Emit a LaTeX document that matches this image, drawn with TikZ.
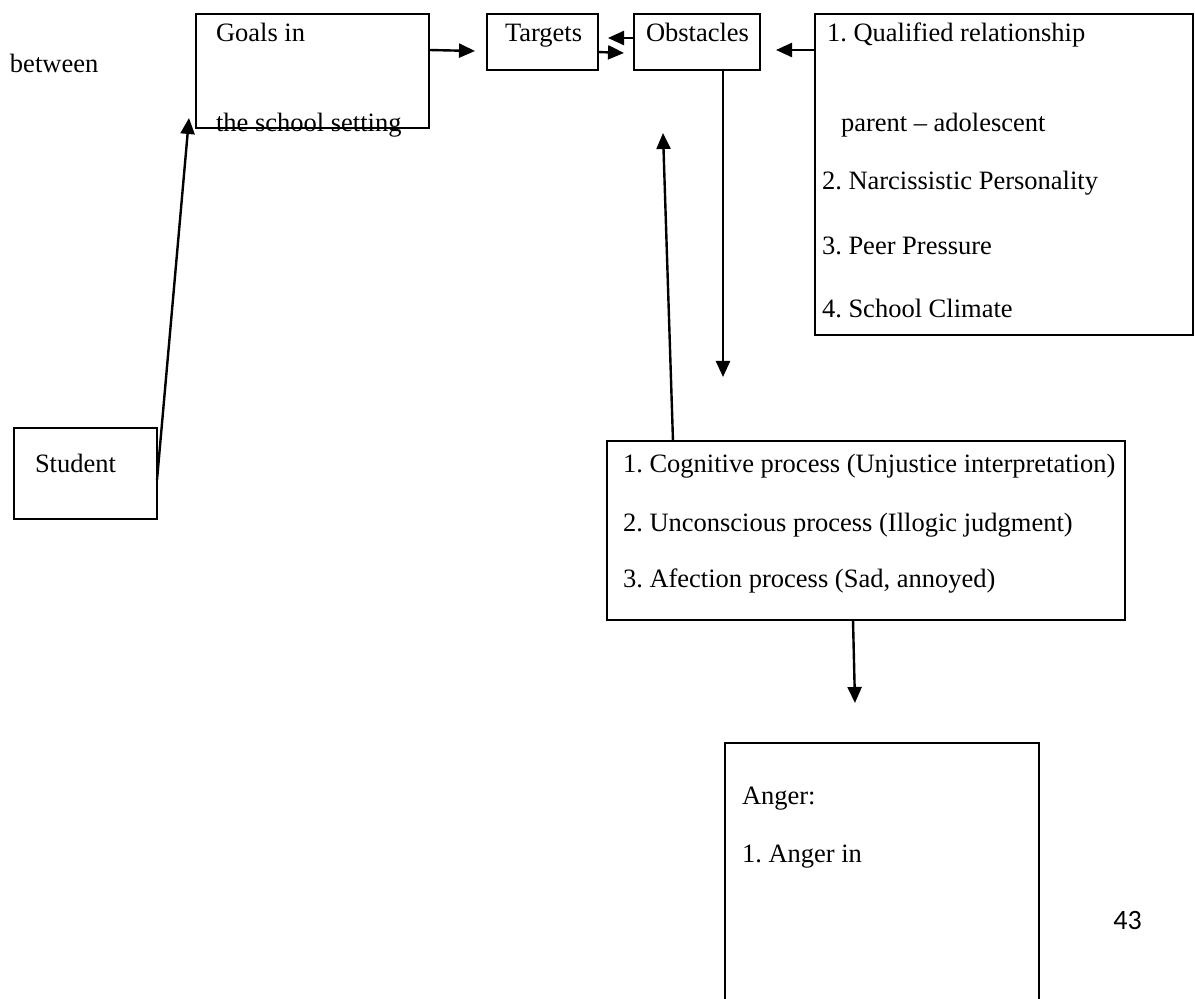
\documentclass[tikz,border=0pt]{standalone}
\usepackage{fontspec}
\setmainfont{Liberation Serif}
\newfontfamily\numfont{Carlito}
\frenchspacing
\usetikzlibrary{arrows.meta,calc,fit}
\tikzset{
  box/.style={draw, line width=0.75pt, inner sep=0pt, outer sep=0pt, rectangle},
  txt/.style={inner sep=0pt, outer sep=0pt, anchor=base west, font=\fontsize{13.25}{15}\selectfont},
  arr/.style={line width=1.2pt, -{Triangle[length=8pt,width=7pt]}}
}
\begin{document}
\begin{tikzpicture}[x=0.5pt,y=-0.5pt]
\clip (0,0) rectangle (1195,999);
\fill[white] (0,0) rectangle (1195,999);
% boxes
\node[box, fit={(196,14) (429,128)}] (goals) {};
\node[box, fit={(487,14) (598,70)}] (targets) {};
\node[box, fit={(634,14) (760,70)}] (obst) {};
\node[box, fit={(815,14) (1193,335)}] (qual) {};
\node[box, fit={(14,428) (157,519)}] (student) {};
\node[box, fit={(607,441) (1125,620)}] (cog) {};
\node[box, fit={(725,743) (1039,1012)}] (anger) {};
% texts
\node[txt] (between) at (10,73) {between};
\node[txt] (g1) at (216,42) {Goals in};
\node[txt] (g2) at (216,132) {the school setting};
\node[txt] (tt) at (505,42) {Targets};
\node[txt] (ot) at (646,42) {Obstacles};
\node[txt] (q1) at (827,42) {1. Qualified relationship};
\node[txt] (q2) at (841,132) {parent – adolescent};
\node[txt] (q3) at (822,190) {2. Narcissistic Personality};
\node[txt] (q4) at (822,255) {3. Peer Pressure};
\node[txt] (q5) at (822,318) {4. School Climate};
\node[txt] (st) at (35,473) {Student};
\node[txt] (c1) at (623,473) {1. Cognitive process (Unjustice interpretation)};
\node[txt] (c2) at (623,532) {2. Unconscious process (Illogic judgment)};
\node[txt] (c3) at (623,588) {3. Afection process (Sad, annoyed)};
\node[txt] (a1) at (742,805) {Anger:};
\node[txt] (a2) at (742,863) {1. Anger in};
\node[inner sep=0pt, anchor=base west, font=\numfont\fontsize{14}{16}\selectfont] (page) at (1113,929) {43};
% free arrow ends
\coordinate (tipGT) at (475,51);
\coordinate (tipOT) at (608,38);
\coordinate (tipTO) at (624,53);
\coordinate (tipQO) at (776,50);
\coordinate (tipSG) at (189,118);
\coordinate (tipCU) at (663,133);
\coordinate (tipOD) at (723,377);
\coordinate (tipCD) at (855,703);
% connectors
\draw[arr] ($(goals.north east)+(0,36)$) -- (tipGT);
\draw[arr] ($(obst.north west)+(0,24)$) -- (tipOT);
\draw[arr] ($(targets.north east)+(0,38)$) -- (tipTO);
\draw[arr] ($(qual.north west)+(0,36)$) -- (tipQO);
\draw[arr] ($(student.north east)+(0,52)$) -- (tipSG);
\draw[arr] ($(cog.north west)+(66,0)$) -- (tipCU);
\draw[arr] ($(obst.south west)+(89,0)$) -- (tipOD);
\draw[arr] ($(cog.south west)+(246,0)$) -- (tipCD);
\end{tikzpicture}
\end{document}
